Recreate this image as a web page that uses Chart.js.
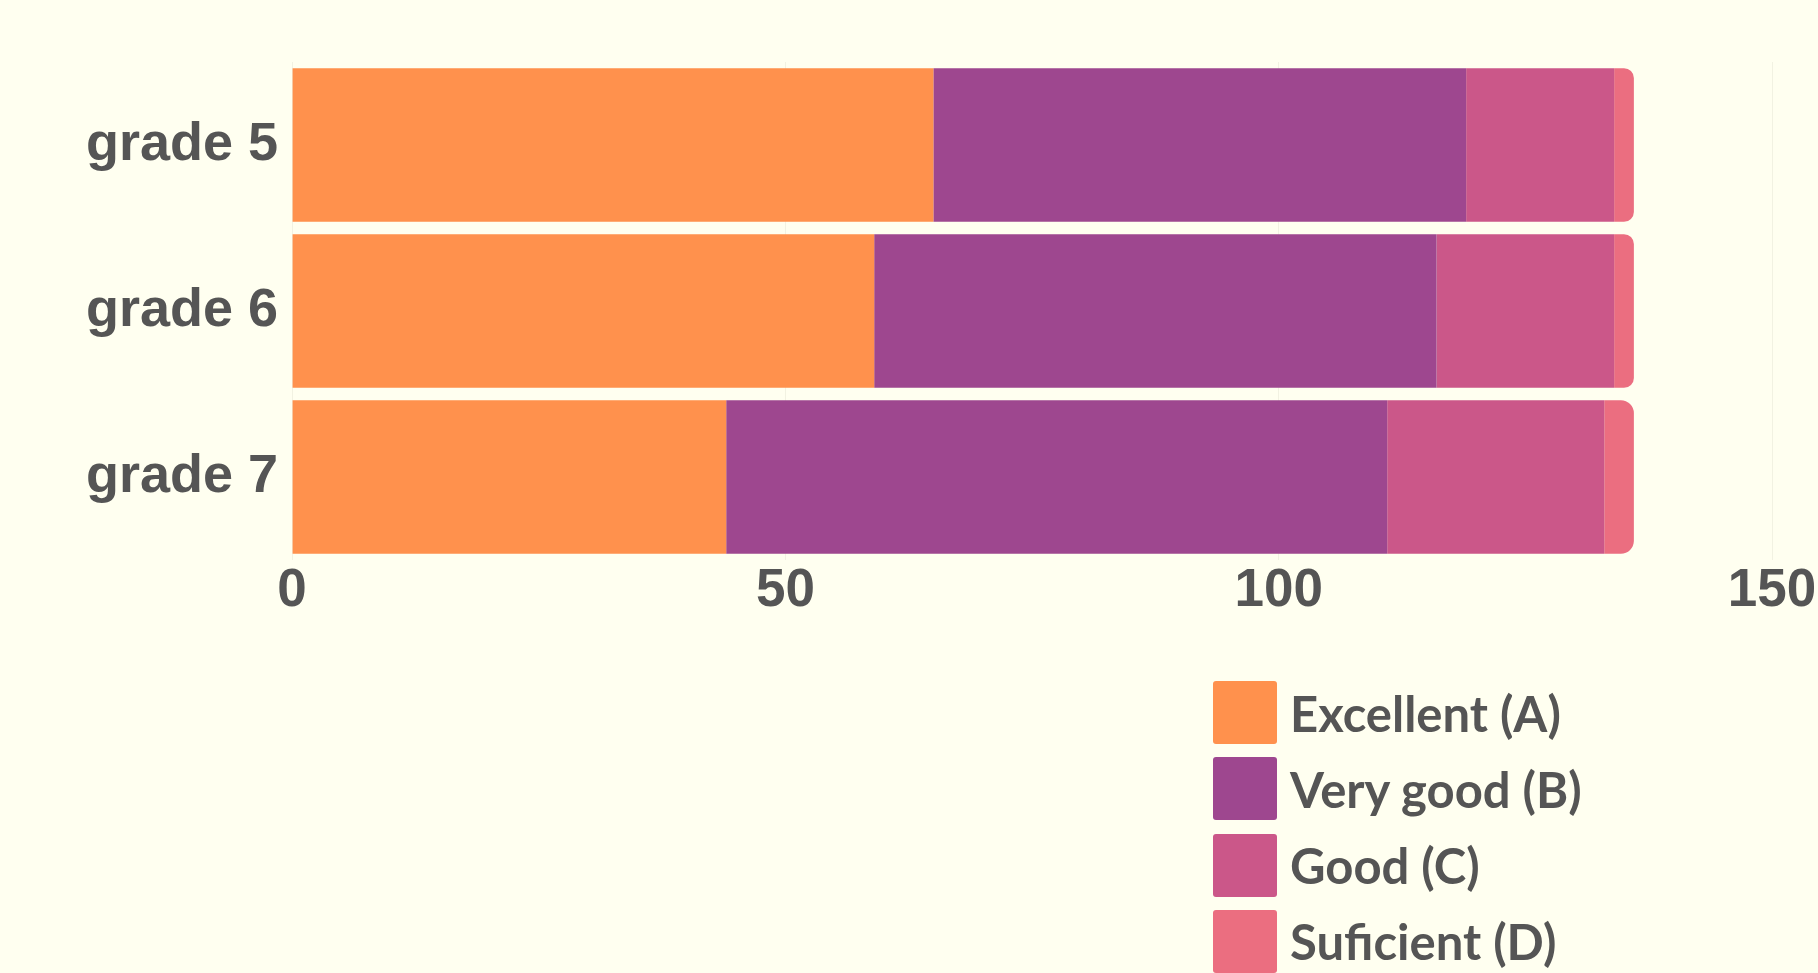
<!DOCTYPE html>
<html>
<head>
<meta charset="utf-8">
<title>Grades</title>
<script src="https://cdn.jsdelivr.net/npm/chart.js@4/dist/chart.umd.min.js"></script>
<style>
    html, body {
        margin: 0;
        padding: 0;
        background: #FFFFF0;
        overflow: hidden;
    }
    #wrap {
        position: relative;
        width: 1818px;
        height: 973px;
    }
    #legend {
        position: absolute;
        left: 1213px;
        top: 681px;
        font-family: Lato, "Noto Sans", sans-serif;
        font-weight: 700;
        font-size: 49px;
        color: #555555;
    }
    #legend .item {
        display: flex;
        align-items: center;
        height: 63px;
        margin-bottom: 13.3px;
    }
    #legend .swatch {
        width: 64px;
        height: 63px;
        border-radius: 3px;
        margin-right: 13px;
    }
</style>
</head>
<body>
<div id="wrap">
    <canvas id="chart"></canvas>
    <div id="legend"></div>
</div>
<script>
    // Chart data.
    var grades = ['grade 5', 'grade 6', 'grade 7'];
    var seriesNames = ['Excellent (A)', 'Very good (B)', 'Good (C)', 'Suficient (D)'];
    var excellent = [65, 59, 44];
    var veryGood = [54, 57, 67];
    var good = [15, 18, 22];
    var sufficient = [2, 2, 3];
    var xTicks = [0, 50, 100, 150];

    // Styles.
    var colors = ['#FF914D', '#9E478F', '#CB5789', '#EB6E80'];
    var textColor = '#555555';

    var values = [excellent, veryGood, good, sufficient];
    var datasets = values.map(function(v, i) {
        return {
            label: seriesNames[i],
            data: v,
            backgroundColor: colors[i],
            borderWidth: 0,
            borderRadius: i === values.length - 1 ? 13 : 0,
            categoryPercentage: 1,
            barPercentage: 0.925
        };
    });

    var chart = new Chart(document.getElementById('chart'), {
        type: 'bar',
        data: {
            labels: grades,
            datasets: datasets
        },
        options: {
            indexAxis: 'y',
            responsive: true,
            maintainAspectRatio: false,
            animation: false,
            layout: {
                padding: {left: 72, right: 0, top: 62, bottom: 350}
            },
            scales: {
                x: {
                    stacked: true,
                    min: 0,
                    max: 150,
                    afterBuildTicks: function(scale) {
                        scale.ticks = xTicks.map(function(v) { return {value: v}; });
                    },
                    // Last tick label may run to the canvas edge.
                    afterFit: function(scale) {
                        scale.paddingRight = 46;
                    },
                    grid: {
                        color: '#F2F2E2',
                        lineWidth: 1,
                        drawTicks: false
                    },
                    border: {display: false},
                    ticks: {
                        padding: 5,
                        color: textColor,
                        maxRotation: 0,
                        font: {family: '"Liberation Sans", Arial, sans-serif', size: 53, weight: 'bold', lineHeight: 1}
                    }
                },
                y: {
                    stacked: true,
                    grid: {display: false, drawTicks: false},
                    border: {display: false},
                    ticks: {
                        padding: 14,
                        color: textColor,
                        font: {family: '"Liberation Sans", Arial, sans-serif', size: 54, weight: 'bold'}
                    }
                }
            },
            plugins: {
                legend: {display: false},
                tooltip: {enabled: false}
            }
        }
    });

    // Build the legend from the chart datasets.
    var legendEl = document.getElementById('legend');
    chart.data.datasets.forEach(function(ds) {
        var row = document.createElement('div');
        row.className = 'item';
        var sw = document.createElement('div');
        sw.className = 'swatch';
        sw.style.background = ds.backgroundColor;
        var label = document.createElement('span');
        label.textContent = ds.label;
        row.appendChild(sw);
        row.appendChild(label);
        legendEl.appendChild(row);
    });
</script>
</body>
</html>
